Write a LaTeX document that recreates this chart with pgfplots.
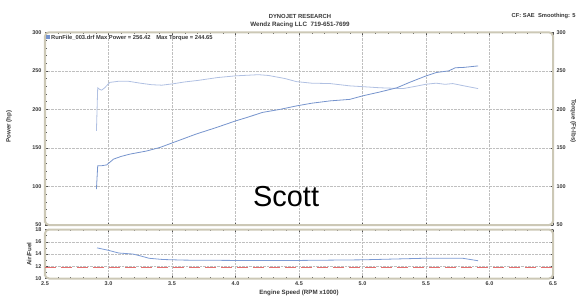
\documentclass[border=0pt]{standalone}
\usepackage{pgfplots}
\pgfplotsset{compat=1.18}
\usepackage{fontspec}
\setmainfont{Liberation Sans}
\setsansfont{Liberation Sans}
\definecolor{frame}{RGB}{204,200,182}
\definecolor{pw}{RGB}{118,148,205}
\definecolor{tq}{RGB}{176,192,226}
\definecolor{afr}{RGB}{125,155,212}
\definecolor{afrref}{RGB}{228,110,110}
\definecolor{txt}{RGB}{55,55,55}
\pgfplotsset{dyno/.style={
  scale only axis, width=508bp, xmin=2.5, xmax=6.5,
  xtick={2.5,3,...,6.5}, minor x tick num=4,
  grid=major, major grid style={gray!50, densely dotted, line width=0.5bp},
  axis line style={frame, line width=2bp, rounded corners=4bp},
  tick style={black!70, line width=0.4bp},
  major tick length=2.5bp, minor tick length=1.5bp,
  tick align=inside,
  ticklabel style={font=\fontsize{5.5}{6.5}\selectfont\bfseries, text=txt},
  /pgf/number format/assume math mode=true,
  label style={font=\fontsize{6.2}{7}\selectfont\bfseries, text=txt},
}}
\begin{document}
\begin{tikzpicture}
\path[use as bounding box] (0,0) rectangle (581bp,-306bp);
% main panel
\begin{axis}[dyno, at={(45bp,-32.3bp)}, anchor=north west, height=192.7bp,
  ymin=50, ymax=300, ytick={50,100,...,300}, minor y tick num=4,
  xticklabels={},
  ylabel={Power (hp)},
  ylabel style={at={(axis description cs:-0.071,0.51)}, anchor=center}]
\addplot[tq, line width=0.8bp] coordinates {
(2.905,172) (2.915,228) (2.93,226) (2.946,225) (2.97,228) (3.01,235) (3.08,236.5)
(3.156,236.5) (3.25,234) (3.34,232) (3.42,231.4) (3.5,233) (3.60,235.6) (3.7,237.5)
(3.86,241.3) (4.0,243.5) (4.18,245) (4.26,244) (4.39,240) (4.48,236) (4.6,234)
(4.744,233.5) (4.9,230.5) (5.0,229.5) (5.14,228) (5.32,227) (5.42,230) (5.5,232.6)
(5.58,234) (5.65,232.5) (5.71,233.5) (5.8,230.5) (5.91,227)};
\addplot[pw, line width=0.8bp] coordinates {
(2.905,96.6) (2.915,126.8) (2.95,127) (2.986,128) (3.04,135.5) (3.1,139) (3.17,142)
(3.3,146) (3.405,150.6) (3.51,157) (3.6,162.5) (3.69,168) (3.85,176.5) (4.0,185)
(4.1,190) (4.21,196) (4.35,200) (4.48,204.5) (4.6,208) (4.744,211) (4.9,213)
(5.0,217.5) (5.14,222.7) (5.27,228) (5.37,235) (5.5,243.4) (5.58,247.8) (5.68,250)
(5.73,254) (5.8,254.5) (5.91,256.4)};
\end{axis}
% right torque axis
\begin{axis}[dyno, at={(45bp,-32.3bp)}, anchor=north west, height=192.7bp,
  ymin=50, ymax=300, ytick={50,100,...,300}, grid=none,
  axis x line=none, axis y line*=right, axis line style={draw=none},
  ytick style={draw=none}, minor y tick num=0,
  ylabel={Torque (Ft-lbs)},
  ylabel style={at={(axis description cs:1.04,0.54)}, anchor=center, rotate=180}]
\end{axis}
% lower panel
\begin{axis}[dyno, at={(45bp,-229.5bp)}, anchor=north west, height=49bp,
  ymin=10, ymax=18, ytick={10,12,...,18}, minor y tick num=1,
  xticklabel style={/pgf/number format/.cd, fixed, fixed zerofill, precision=1},
  xlabel={Engine Speed (RPM x1000)},
  xlabel style={yshift=3bp},
  ylabel={Air/Fuel},
  ylabel style={at={(axis description cs:-0.031,0.5)}, anchor=center}]
\addplot[afrref, line width=0.8bp, dash pattern=on 11bp off 5bp] coordinates {(2.5,11.8) (6.5,11.8)};
\addplot[afr, line width=0.8bp] coordinates {
(2.91,15.0) (3.0,14.6) (3.08,14.16) (3.19,14.0) (3.25,13.7) (3.32,13.3) (3.43,13.1)
(3.6,13.0) (4.0,12.95) (4.5,12.95) (5.0,13.05) (5.48,13.3) (5.79,13.3) (5.91,12.9)};
\end{axis}
\node[font=\fontsize{5.9}{6.5}\selectfont\bfseries, text=txt] at (300bp,-16bp) {DYNOJET RESEARCH};
\node[font=\fontsize{6.3}{7}\selectfont\bfseries, text=txt] at (300bp,-25bp) {Wendz Racing LLC\ \ 719-651-7699};
\node[font=\fontsize{5.8}{6.5}\selectfont\bfseries, text=txt, anchor=east] at (579bp,-16bp) {CF: SAE\ \ Smoothing: 5};
\node[font=\fontsize{5.8}{6.5}\selectfont\bfseries, text=txt, anchor=west, inner sep=0] at (46bp,-37.8bp) {\textcolor{pw}{\rule{4bp}{4.5bp}}\,RunFile\_003.drf Max Power = 256.42\quad Max Torque = 244.65};
\node[anchor=base west, font=\fontsize{29}{30}\selectfont, inner sep=0] at (253bp,-206bp) {Scott};
\end{tikzpicture}
\end{document}
